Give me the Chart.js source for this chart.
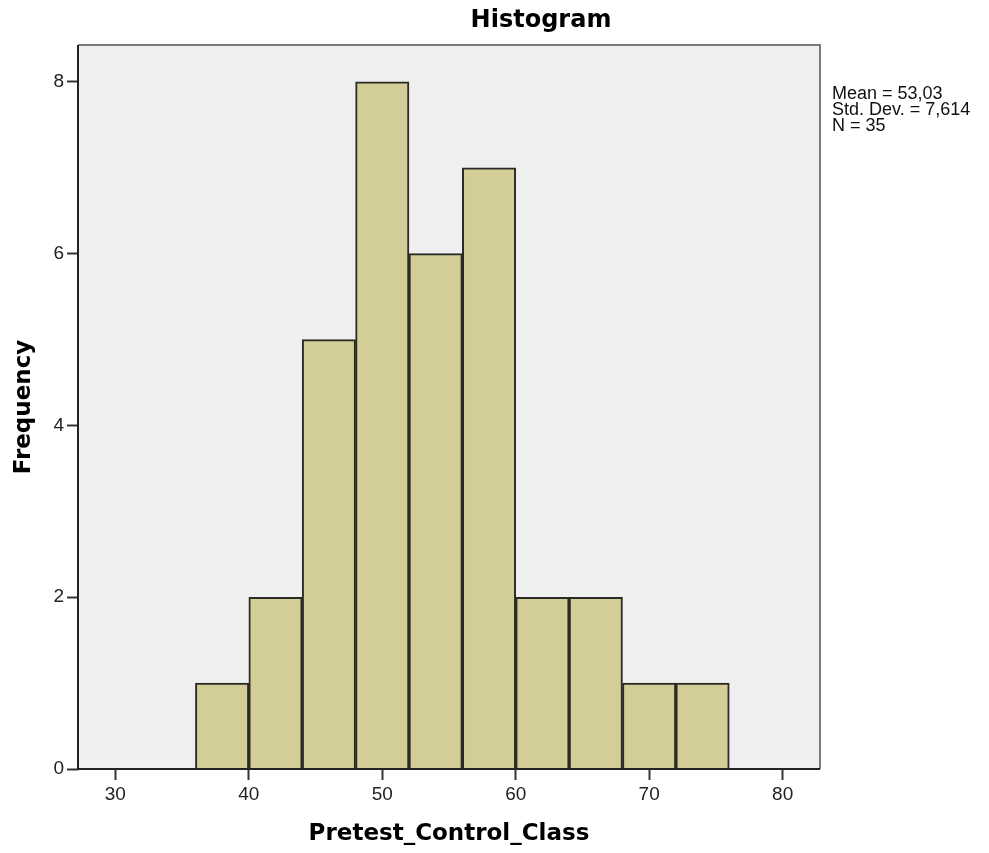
<!DOCTYPE html>
<html lang="en">
<head>
  <meta charset="UTF-8">
  <title>Histogram</title>
  <script src="https://cdn.jsdelivr.net/npm/chart.js"></script>
  <style>
    body {
      margin: 0;
      background: #ffffff;
    }
    .wrap {
      width: 989px;
      height: 853px;
    }
  </style>
</head>
<body>
  <div class="wrap">
    <canvas id="histChart" width="989" height="853"></canvas>
  </div>

  <script>
    // bins of Pretest_Control_Class (width 4), bin centres and counts
    const binCenters = [38, 42, 46, 50, 54, 58, 62, 66, 70, 74];
    const frequencies = [1, 2, 5, 8, 6, 7, 2, 2, 1, 1];
    const xTicks = [30, 40, 50, 60, 70, 80];
    const yTicks = [0, 2, 4, 6, 8];
    const statsLines = ['Mean = 53,03', 'Std. Dev. = 7,614', 'N = 35'];

    const plotFrame = {
      id: 'plotFrame',
      beforeDatasetsDraw(chart) {
        const { ctx, chartArea: a } = chart;
        ctx.save();
        ctx.fillStyle = '#efefef';
        ctx.fillRect(a.left, a.top, a.right - a.left, a.bottom - a.top);
        ctx.restore();
      },
      afterDraw(chart) {
        const { ctx, chartArea: a } = chart;
        ctx.save();
        // frame: top/right grey, left/bottom dark
        ctx.lineWidth = 2;
        ctx.strokeStyle = '#7a7a7a';
        ctx.beginPath();
        ctx.moveTo(a.left, a.top);
        ctx.lineTo(a.right, a.top);
        ctx.lineTo(a.right, a.bottom);
        ctx.stroke();
        ctx.strokeStyle = '#222';
        ctx.beginPath();
        ctx.moveTo(a.left, a.top);
        ctx.lineTo(a.left, a.bottom);
        ctx.lineTo(a.right, a.bottom);
        ctx.stroke();

        // title
        ctx.fillStyle = '#000';
        ctx.font = 'bold 24px "DejaVu Sans", sans-serif';
        ctx.textAlign = 'center';
        ctx.textBaseline = 'middle';
        ctx.fillText('Histogram', 541, 21);

        // statistics box
        ctx.font = '18px "Liberation Sans", Arial, sans-serif';
        ctx.textAlign = 'left';
        ctx.fillStyle = '#111';
        statsLines.forEach((t, i) => ctx.fillText(t, 832, 94 + i * 16));
        ctx.restore();
      }
    };

    const ctx = document.getElementById('histChart').getContext('2d');
    new Chart(ctx, {
      type: 'bar',
      data: {
        datasets: [{
          label: 'Frequency',
          data: binCenters.map((c, i) => ({ x: c, y: frequencies[i] })),
          backgroundColor: '#d3ce97',
          borderColor: '#2a2a26',
          borderWidth: 2,
          borderSkipped: 'bottom',
          barPercentage: 1,
          categoryPercentage: 1
        }]
      },
      options: {
        responsive: false,
        animation: false,
        layout: {
          padding: { left: 0, right: 169, top: 45, bottom: 0 }
        },
        plugins: {
          legend: { display: false },
          tooltip: { enabled: false }
        },
        scales: {
          x: {
            type: 'linear',
            min: 27.2,
            max: 82.8,
            offset: false,
            afterFit(scale) { scale.height = 84; },
            afterBuildTicks(scale) { scale.ticks = xTicks.map(v => ({ value: v })); },
            grid: {
              offset: false,
              drawOnChartArea: false,
              drawTicks: true,
              tickLength: 11,
              tickColor: '#333',
              tickWidth: 2
            },
            border: { display: false },
            ticks: {
              color: '#222',
              padding: 3,
              maxRotation: 0,
              font: { family: '"Liberation Sans", Arial, sans-serif', size: 19 }
            },
            title: {
              display: true,
              text: 'Pretest_Control_Class',
              color: '#000',
              padding: { top: 0, bottom: 5 },
              font: { family: '"DejaVu Sans", sans-serif', size: 23, weight: 'bold' }
            }
          },
          y: {
            min: 0,
            max: 8.43,
            afterFit(scale) { scale.width = 78; },
            afterBuildTicks(scale) { scale.ticks = yTicks.map(v => ({ value: v })); },
            grid: {
              drawOnChartArea: false,
              drawTicks: true,
              tickLength: 11,
              tickColor: '#333',
              tickWidth: 2
            },
            border: { display: false },
            ticks: {
              color: '#222',
              padding: 3,
              font: { family: '"Liberation Sans", Arial, sans-serif', size: 19 }
            },
            title: {
              display: true,
              text: 'Frequency',
              color: '#000',
              padding: { top: 10, bottom: 0 },
              font: { family: '"DejaVu Sans", sans-serif', size: 23, weight: 'bold' }
            }
          }
        }
      },
      plugins: [plotFrame]
    });
  </script>
</body>
</html>
